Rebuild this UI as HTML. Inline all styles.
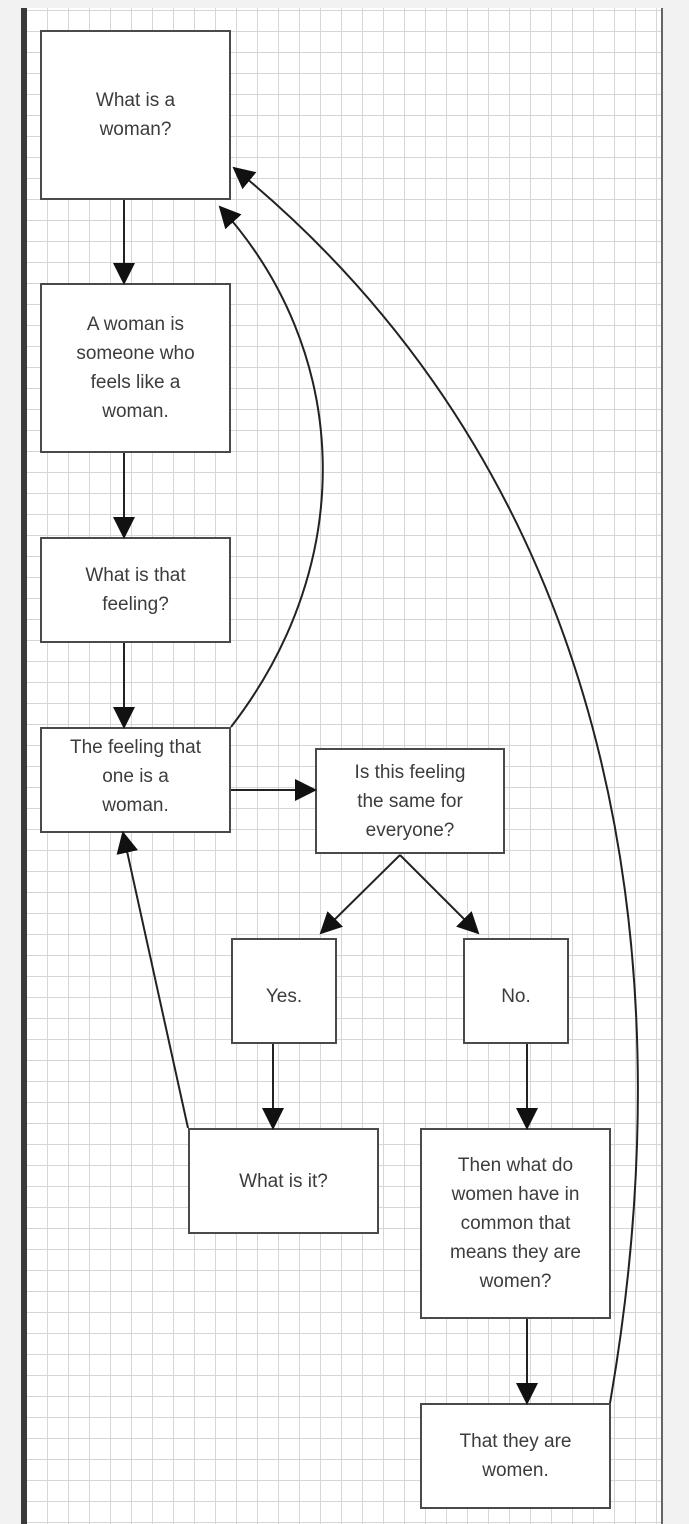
<!DOCTYPE html>
<html><head><style>
html,body{margin:0;padding:0;background:#f2f2f2;}
body{width:689px;height:1524px;position:relative;overflow:hidden;font-family:"Liberation Sans",sans-serif;}
.grid{position:absolute;left:27px;top:8px;width:634px;height:1516px;background-color:#fff;
background-image:linear-gradient(#d6d6d6 1px,transparent 1px),linear-gradient(90deg,#d6d6d6 1px,transparent 1px);
background-size:21px 21px;background-position:-1px 2px;border-right:2px solid #666;}
.bar{position:absolute;left:21px;top:8px;width:6px;height:1516px;background:#3a3a3a;}
.b{position:absolute;box-sizing:border-box;border:2.5px solid #4a4a4a;background:#fff;display:flex;align-items:center;justify-content:center;text-align:center;font-size:19px;line-height:29px;color:#3c3c3c;}
svg{position:absolute;left:0;top:0;}
</style></head><body>
<div class="bar"></div><div class="grid"></div>
<div class="b" style="left:40px;top:30px;width:191px;height:170px">What is a<br>woman?</div>
<div class="b" style="left:40px;top:283px;width:191px;height:170px">A woman is<br>someone who<br>feels like a<br>woman.</div>
<div class="b" style="left:40px;top:537px;width:191px;height:106px">What is that<br>feeling?</div>
<div class="b" style="left:40px;top:727px;width:191px;height:106px;align-items:flex-start;padding-top:4px">The feeling that<br>one is a<br>woman.</div>
<div class="b" style="left:315px;top:748px;width:190px;height:106px">Is this feeling<br>the same for<br>everyone?</div>
<div class="b" style="left:231px;top:938px;width:106px;height:106px;align-items:flex-start;padding-top:42px">Yes.</div>
<div class="b" style="left:463px;top:938px;width:106px;height:106px;align-items:flex-start;padding-top:42px">No.</div>
<div class="b" style="left:188px;top:1128px;width:191px;height:106px">What is it?</div>
<div class="b" style="left:420px;top:1128px;width:191px;height:191px">Then what do<br>women have in<br>common that<br>means they are<br>women?</div>
<div class="b" style="left:420px;top:1403px;width:191px;height:106px">That they are<br>women.</div>
<svg width="689" height="1524" viewBox="0 0 689 1524">
<defs>
<marker id="m" markerWidth="22" markerHeight="22" refX="20" refY="11" orient="auto" markerUnits="userSpaceOnUse" viewBox="0 0 22 22"><path d="M0,0 L22,11 L0,22z" fill="#111"/></marker></defs>
<g stroke="#222" stroke-width="2" fill="none">
<line x1="124" y1="200" x2="124" y2="283" marker-end="url(#m)"/>
<line x1="124" y1="453" x2="124" y2="537" marker-end="url(#m)"/>
<line x1="124" y1="643" x2="124" y2="727" marker-end="url(#m)"/>
<line x1="231" y1="790" x2="315" y2="790" marker-end="url(#m)"/>
<line x1="400" y1="855" x2="321" y2="933" marker-end="url(#m)"/>
<line x1="400" y1="855" x2="478" y2="933" marker-end="url(#m)"/>
<line x1="273" y1="1044" x2="273" y2="1128" marker-end="url(#m)"/>
<line x1="527" y1="1044" x2="527" y2="1128" marker-end="url(#m)"/>
<line x1="527" y1="1319" x2="527" y2="1403" marker-end="url(#m)"/>
<line x1="188" y1="1128" x2="123" y2="833" marker-end="url(#m)"/>
<path d="M231,727 C360,560 350,350 220,207" marker-end="url(#m)"/>
<path d="M610,1403 C680,1000 640,500 234,168" marker-end="url(#m)"/>
</g></svg>
</body></html>
